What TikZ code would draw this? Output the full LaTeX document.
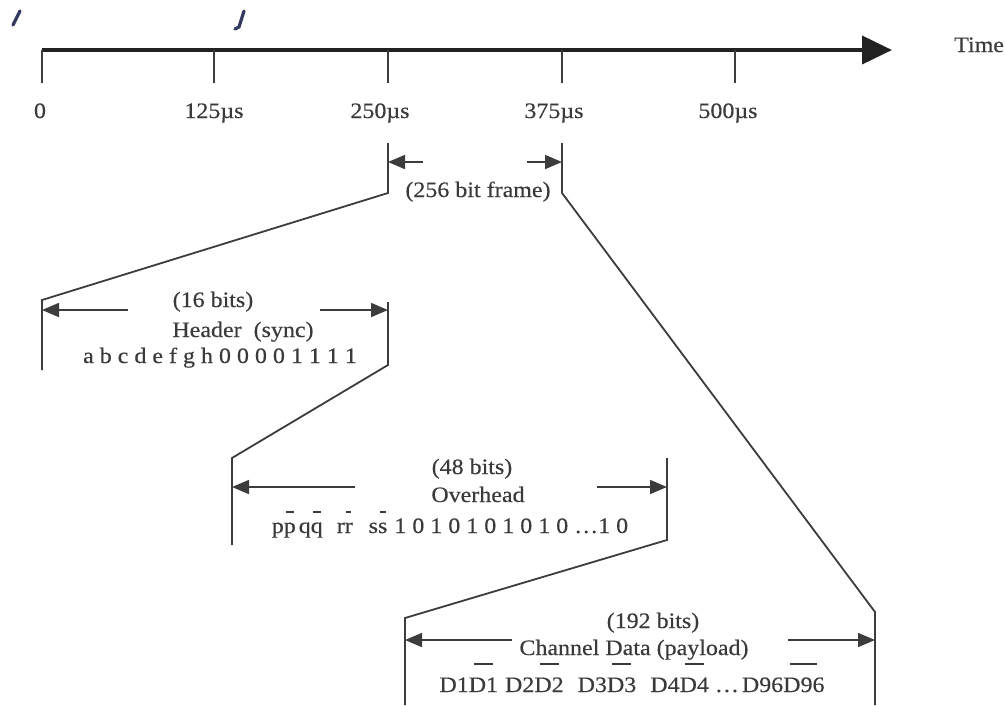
\documentclass[tikz,border=0pt]{standalone}
\usepackage{fontspec}
\setmainfont{Liberation Serif}[FakeStretch=1.09,FakeBold=0.4]
\usetikzlibrary{arrows.meta}
\definecolor{txtc}{HTML}{3A3A3A}
\definecolor{linec}{HTML}{3C3C3C}
\definecolor{axisc}{HTML}{222222}
\definecolor{inkc}{HTML}{34395E}
\newcommand\ovbar[2]{\leavevmode\setbox0\hbox{#2}\rlap{\raisebox{#1}{\makebox[\wd0]{\rule{0.65\wd0}{1.7pt}}}}\box0}
\begin{document}
\begin{tikzpicture}[x=1pt,y=-1pt,
  lbl/.style={font=\fontsize{22}{24}\selectfont, text=txtc, inner sep=0pt, anchor=base},
  edge/.style={draw=linec, line width=1.8pt},
  dimarrow/.style={draw=linec, line width=1.8pt, -{Triangle[length=17pt,width=14pt]}},
  tickline/.style={draw=linec, line width=1.8pt},
  inkstroke/.style={draw=inkc, line width=3.2pt, line cap=round}
]
\useasboundingbox (0,0) rectangle (1005,705);

% stray ink marks
\draw[inkstroke] (20,11) -- (13,25);
\draw[inkstroke] (244,11) -- (239,27) -- (235,29);

% time axis
\coordinate (t0) at (42,50);
\coordinate (tend) at (892,50);
\draw[line width=4pt, draw=axisc, -{Triangle[length=30pt,width=28pt]}] (t0) -- (tend);
\node[lbl, anchor=base west] (time) at (954,52) {Time};

\foreach \x/\name/\lab/\lx in {42/a/0/40, 214/b/125µs/214, 388/c/250µs/380, 562/d/375µs/554, 735/e/500µs/728}{
  \coordinate (tk\name) at (\x,50);
  \coordinate (tb\name) at (\x,83);
  \draw[tickline] (tk\name) -- (tb\name);
  \node[lbl] (lab\name) at (\lx,118) {\lab};
}

% frame (256 bits)
\coordinate (fL0) at (388,143); \coordinate (fL1) at (388,193);
\coordinate (fR0) at (562,143); \coordinate (fR1) at (562,193);
\coordinate (fLa) at (423,162); \coordinate (fLb) at (388,162);
\coordinate (fRa) at (527,162); \coordinate (fRb) at (562,162);
\draw[dimarrow] (fLa) -- (fLb);
\draw[dimarrow] (fRa) -- (fRb);
\node[lbl] (frame) at (478,197) {(256 bit frame)};

% header block
\coordinate (hL0) at (42,300); \coordinate (hL1) at (42,370);
\coordinate (hR0) at (388,302); \coordinate (hR1) at (388,365);
\draw[edge] (fL0) -- (fL1) -- (hL0) -- (hL1);
\draw[dimarrow] (128,310) coordinate (hLa) -- (42,310) coordinate (hLb);
\draw[dimarrow] (320,310) coordinate (hRa) -- (388,310) coordinate (hRb);
\node[lbl] (h16) at (213,307) {(16 bits)};
\node[lbl] (hname) at (243,337) {Header\ \ (sync)};
\node[lbl] (hbits) at (220,363) {a b c d e f g h 0 0 0 0 1 1 1 1};

% overhead block
\coordinate (oL0) at (232,458); \coordinate (oL1) at (232,545);
\coordinate (oR0) at (667,458); \coordinate (oR1) at (667,540);
\draw[edge] (hR0) -- (hR1) -- (oL0) -- (oL1);
\draw[dimarrow] (355,487) coordinate (oLa) -- (232,487) coordinate (oLb);
\draw[dimarrow] (597,487) coordinate (oRa) -- (667,487) coordinate (oRb);
\node[lbl] (o48) at (472,474) {(48 bits)};
\node[lbl] (oname) at (478,502) {Overhead};
\node[lbl] (obits) at (450,533) {p\ovbar{20pt}{p}\hspace{3pt}q\ovbar{20pt}{q}\hspace{14pt}r\ovbar{20pt}{r}\hspace{16pt}s\ovbar{20pt}{s}\hspace{7pt}1 0 1 0 1 0 1 0 1 0 \dots1 0};

% payload block
\coordinate (pL0) at (405,618); \coordinate (pL1) at (405,705);
\coordinate (pR0) at (875,612); \coordinate (pR1) at (875,705);
\draw[edge] (oR0) -- (oR1) -- (pL0) -- (pL1);
\draw[edge] (fR0) -- (fR1) -- (pR0) -- (pR1);
\draw[dimarrow] (512,640) coordinate (pLa) -- (405,640) coordinate (pLb);
\draw[dimarrow] (788,640) coordinate (pRa) -- (875,640) coordinate (pRb);
\node[lbl] (p192) at (653,628) {(192 bits)};
\node[lbl] (pname) at (634,655) {Channel Data (payload)};
\node[lbl] (pbits) at (632,692) {D1\ovbar{27pt}{D1}\hspace{7pt}D2\ovbar{27pt}{D2}\hspace{14pt}D3\ovbar{27pt}{D3}\hspace{14pt}D4\ovbar{27pt}{D4}\hspace{6pt}\dots\hspace{3pt}D96\ovbar{27pt}{D96}};
\end{tikzpicture}
\end{document}
